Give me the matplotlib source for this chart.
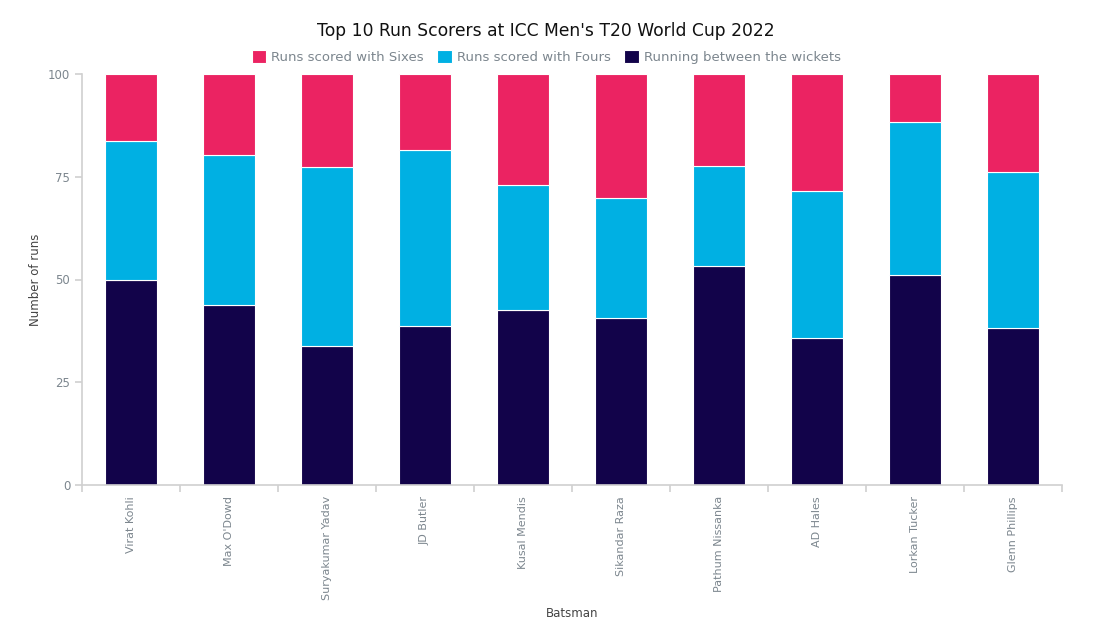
import matplotlib.pyplot as plt
import numpy as np

## Data (share of runs, %)
batsmen = ['Virat Kohli', "Max O'Dowd", 'Suryakumar Yadav', 'JD Butler', 'Kusal Mendis',
           'Sikandar Raza', 'Pathum Nissanka', 'AD Hales', 'Lorkan Tucker', 'Glenn Phillips']
running = [50.0, 43.8, 33.9, 38.7, 42.6, 40.6, 53.3, 35.8, 51.0, 38.3]
fours = [33.8, 36.4, 43.5, 42.7, 30.5, 29.2, 24.3, 35.8, 37.3, 37.8]
sixes = [16.2, 19.8, 22.6, 18.6, 26.9, 30.2, 22.4, 28.4, 11.7, 23.9]

c_six = '#EB2362'
c_four = '#00B0E3'
c_run = '#12034A'
grey = '#7c868e'
axis_col = '#d0d0d0'

fig = plt.figure(figsize=(10.99, 6.41), dpi=100)
ax = fig.add_axes([82/1099, (641-485)/641, (1062-82)/1099, (485-74)/641])

x = np.arange(len(batsmen))
running = np.array(running)
fours = np.array(fours)
sixes = np.array(sixes)

b1 = ax.bar(x, running, width=0.53, color=c_run, edgecolor='white', linewidth=0.8,
            label='Running between the wickets')
b2 = ax.bar(x, fours, width=0.53, bottom=running, color=c_four, edgecolor='white',
            linewidth=0.8, label='Runs scored with Fours')
b3 = ax.bar(x, sixes, width=0.53, bottom=running+fours, color=c_six, edgecolor='white',
            linewidth=0.8, label='Runs scored with Sixes')

ax.set_xlim(-0.5, len(batsmen)-0.5)
ax.set_ylim(0, 100)
ax.set_yticks([0, 25, 50, 75, 100])
ax.set_xticks(x)
ax.set_xticklabels(batsmen, rotation=90, color=grey, fontsize=8)
ax.set_xticks(np.arange(-0.5, len(batsmen)), minor=True)
ax.tick_params(axis='x', which='major', length=0, pad=8)
ax.tick_params(axis='x', which='minor', length=5, color=axis_col, width=1.2)
ax.tick_params(axis='y', length=5, color=axis_col, width=1.2, labelcolor=grey, labelsize=8.5)

for s in ['top', 'right']:
    ax.spines[s].set_visible(False)
for s in ['left', 'bottom']:
    ax.spines[s].set_color(axis_col)
    ax.spines[s].set_linewidth(1.2)

ax.set_ylabel('Number of runs', fontsize=8.5, color='#444444', labelpad=4)
ax.set_xlabel('Batsman', fontsize=8.5, color='#444444', labelpad=5)

fig.text(0.497, 1 - 31/641, "Top 10 Run Scorers at ICC Men's T20 World Cup 2022",
         ha='center', va='center', fontsize=12.3, color='#111111')

leg = fig.legend(handles=[b3, b2, b1], loc='center', bbox_to_anchor=(0.497, 1 - 57/641),
                 ncol=3, frameon=False, fontsize=9.5, handlelength=1.1, handleheight=1.1,
                 handletextpad=0.4, columnspacing=1.0)
for t in leg.get_texts():
    t.set_color(grey)

plt.savefig('out.png', dpi=100)
